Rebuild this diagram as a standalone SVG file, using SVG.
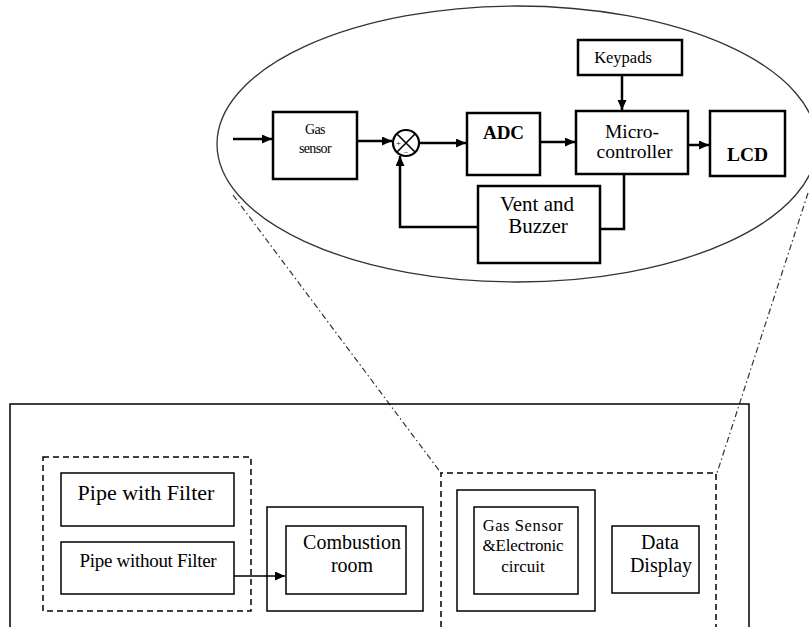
<svg xmlns="http://www.w3.org/2000/svg" width="809" height="627" viewBox="0 0 809 627">
  <style>
    text { font-family: "Liberation Serif", Tinos, "Times New Roman", Times, "DejaVu Serif", serif; fill: #000; text-anchor: middle; }
    .b { font-weight: bold; }
    .box { fill: #fff; stroke: #000; stroke-width: 2.5; }
    .thin { fill: none; stroke: #000; stroke-width: 1.5; }
    .dash { fill: none; stroke: #000; stroke-width: 1.5; stroke-dasharray: 6 4; }
    .dashdot { fill: none; stroke: #333; stroke-width: 1.2; stroke-dasharray: 6 3 1.5 3; }
    .wire { fill: none; stroke: #000; stroke-width: 2.5; }
    .wire-thin { fill: none; stroke: #000; stroke-width: 1.5; }
  </style>
  <defs>
    <marker id="arr" markerUnits="userSpaceOnUse" markerWidth="11" markerHeight="10" refX="10" refY="4.5" orient="auto">
      <path d="M0,0 L10,4.5 L0,9 z" fill="#000"/>
    </marker>
  </defs>

  <rect width="809" height="627" fill="#fff"/>

  <!-- zoom lines from the detail ellipse down to the sensor section -->
  <g id="zoom-lines">
    <path class="dashdot" d="M233,195 L441,473"/>
    <path class="dashdot" d="M808,193 L717,473"/>
  </g>

  <!-- detail ellipse -->
  <ellipse id="detail-ellipse" cx="517" cy="144" rx="300" ry="138" fill="none" stroke="#333" stroke-width="1.3"/>

  <!-- system overview frame -->
  <g id="system-frame">
    <path class="thin" d="M10,627 V404 H749 V627"/>
  </g>

  <g id="pipes-group">
    <rect class="dash" x="43" y="457" width="208" height="154"/>
  </g>
  <g id="pipe-with-filter">
    <rect class="thin" x="61" y="473" width="173" height="53" fill="#fff"/>
    <text x="146" y="500" font-size="22">Pipe with Filter</text>
  </g>
  <g id="pipe-without-filter">
    <rect class="thin" x="61" y="542" width="173" height="52" fill="#fff"/>
    <text x="148" y="567" font-size="19" letter-spacing="-0.3">Pipe without Filter</text>
  </g>

  <g id="combustion-room">
    <rect class="thin" x="267" y="507" width="156" height="104"/>
    <rect class="thin" x="286" y="526" width="120" height="68"/>
    <text x="352" y="549" font-size="20">Combustion</text>
    <text x="352" y="572" font-size="20">room</text>
  </g>

  <g id="sensor-group">
    <path class="dash" d="M441,627 V473 H716 V627"/>
  </g>
  <g id="gas-sensor-circuit">
    <rect class="thin" x="457" y="490" width="138" height="121"/>
    <rect class="thin" x="474" y="507" width="104" height="87"/>
    <text x="523" y="531" font-size="16.5" letter-spacing="0.6">Gas Sensor</text>
    <text x="523" y="551" font-size="17" letter-spacing="-0.2">&amp;Electronic</text>
    <text x="523" y="572" font-size="17">circuit</text>
  </g>
  <g id="data-display">
    <rect class="thin" x="612" y="526" width="87" height="67"/>
    <text x="660" y="549" font-size="20">Data</text>
    <text x="661" y="572" font-size="20">Display</text>
  </g>

  <!-- block diagram inside the ellipse -->
  <g id="gas-sensor">
    <rect class="box" x="273" y="112" width="84" height="67"/>
    <text x="315" y="134" font-size="14" letter-spacing="-0.6">Gas</text>
    <text x="315" y="153" font-size="14" letter-spacing="-0.6">sensor</text>
  </g>
  <g id="summing-junction">
    <circle cx="406" cy="143" r="13" fill="#fff" stroke="#000" stroke-width="2.2"/>
    <path d="M396.8,133.8 L415.2,152.2 M415.2,133.8 L396.8,152.2" stroke="#000" stroke-width="1.6"/>
    <text x="398.5" y="146" font-size="8">+</text>
    <text x="406" y="155" font-size="8">−</text>
  </g>
  <g id="adc">
    <rect class="box" x="467" y="113" width="73" height="62"/>
    <text class="b" x="503.5" y="139" font-size="19">ADC</text>
  </g>
  <g id="keypads">
    <rect class="box" x="578" y="40" width="104" height="35"/>
    <text x="623" y="63" font-size="16.5">Keypads</text>
  </g>
  <g id="microcontroller">
    <rect class="box" x="576" y="111" width="112" height="63"/>
    <text x="632" y="138" font-size="19.5">Micro-</text>
    <text x="634.5" y="158" font-size="19.5">controller</text>
  </g>
  <g id="lcd">
    <rect class="box" x="710" y="111" width="75" height="65"/>
    <text class="b" x="747.5" y="161" font-size="19.5">LCD</text>
  </g>
  <g id="vent-buzzer">
    <rect class="box" x="478" y="186" width="122" height="77"/>
    <text x="537" y="211" font-size="21">Vent and</text>
    <text x="538" y="233" font-size="21">Buzzer</text>
  </g>

  <!-- connectors -->
  <g id="connectors">
    <path class="wire" d="M233,139 H272" marker-end="url(#arr)"/>
    <path class="wire" d="M357,141 H392" marker-end="url(#arr)"/>
    <path class="wire" d="M419,143 H466" marker-end="url(#arr)"/>
    <path class="wire" d="M540,142 H575" marker-end="url(#arr)"/>
    <path class="wire" d="M622,75 V110" marker-end="url(#arr)"/>
    <path class="wire" d="M688,145 H709" marker-end="url(#arr)"/>
    <path class="wire" d="M624,174 V229 H600"/>
    <path class="wire" d="M478,227 H400 V156" marker-end="url(#arr)"/>
    <path class="wire-thin" d="M234,576 H285" marker-end="url(#arr)"/>
  </g>
</svg>
